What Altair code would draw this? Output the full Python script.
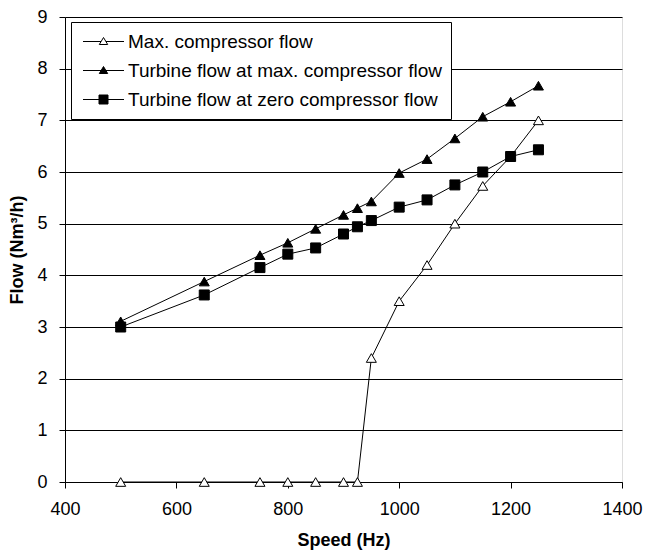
import altair as alt
import pandas as pd

speeds = [500, 650, 750, 800, 850, 900, 925, 950, 1000, 1050, 1100, 1150, 1200, 1250]
max_compressor = [0, 0, 0, 0, 0, 0, 0, 2.4, 3.5, 4.2, 5.0, 5.73, 6.3, 7.0]
turbine_at_max = [3.11, 3.88, 4.39, 4.63, 4.9, 5.17, 5.3, 5.43, 5.98, 6.25, 6.65, 7.07, 7.36, 7.67]
turbine_at_zero = [3.0, 3.62, 4.15, 4.41, 4.53, 4.8, 4.94, 5.06, 5.32, 5.46, 5.75, 6.0, 6.3, 6.43]
series_names = [
    "Max. compressor flow",
    "Turbine flow at max. compressor flow",
    "Turbine flow at zero compressor flow",
]
x_ticks = [400, 600, 800, 1000, 1200, 1400]
y_ticks = [0, 1, 2, 3, 4, 5, 6, 7, 8, 9]

rows = []
for name, vals in zip(series_names, [max_compressor, turbine_at_max, turbine_at_zero]):
    for s, v in zip(speeds, vals):
        rows.append({"series": name, "speed": s, "flow": v})
df = pd.DataFrame(rows)

FONT = "Liberation Sans"

x_enc = alt.X(
    "speed:Q",
    scale=alt.Scale(domain=[400, 1400], nice=False, zero=False),
    axis=alt.Axis(
        values=x_ticks, format="d", title="Speed (Hz)", grid=False,
        domainColor="black", tickColor="black", tickSize=6,
        labelFontSize=18, labelColor="black", labelFont=FONT, labelPadding=12,
        titleFontSize=18, titleFontWeight="bold", titleColor="black", titleFont=FONT,
        titlePadding=13, labelFlush=False,
    ),
)
y_enc = alt.Y(
    "flow:Q",
    scale=alt.Scale(domain=[0, 9], nice=False),
    axis=alt.Axis(
        values=y_ticks, format="d", title="Flow (Nm³/h)", grid=True, gridColor="black", gridWidth=1,
        domainColor="black", tickColor="black", tickSize=6,
        labelFontSize=18, labelColor="black", labelFont=FONT, labelPadding=12,
        titleFontSize=18, titleFontWeight="bold", titleColor="black", titleFont=FONT,
        titlePadding=10, labelFlush=False,
    ),
)

lines = alt.Chart(df).mark_line(color="black", strokeWidth=1).encode(
    x=x_enc, y=y_enc, detail="series:N"
)

points = alt.Chart(df).mark_point(filled=True, stroke="black", strokeWidth=1, size=100, opacity=1).encode(
    x=x_enc, y=y_enc,
    shape=alt.Shape("series:N", scale=alt.Scale(domain=series_names, range=["triangle-up", "triangle-up", "square"]), legend=None),
    fill=alt.Fill("series:N", scale=alt.Scale(domain=series_names, range=["white", "black", "black"]), legend=None),
)

legend_paths = [
    "M-2.05,0H-0.25M0.25,0H2.05M-0.42,0.3L0,-0.4L0.42,0.3Z",
    "M-2.05,0H2.05M-0.42,0.3L0,-0.4L0.42,0.3Z",
    "M-2.05,0H2.05M-0.45,-0.45H0.45V0.45H-0.45Z",
]
leg = alt.Legend(
    title=None, orient="none", legendX=6, legendY=5,
    fillColor="white", strokeColor="black", padding=9,
    symbolSize=400, symbolStrokeWidth=1, symbolStrokeColor="black", symbolOffset=13,
    labelFontSize=19, labelFont=FONT, labelColor="black", labelOffset=14,
    rowPadding=8, labelLimit=0,
)
legend_layer = alt.Chart(df).transform_filter("false").mark_point(
    filled=True, strokeWidth=1, size=400, opacity=1
).encode(
    x=x_enc, y=y_enc,
    shape=alt.Shape("series:N", scale=alt.Scale(domain=series_names, range=legend_paths), legend=leg),
    fill=alt.Fill("series:N", scale=alt.Scale(domain=series_names, range=["white", "black", "black"]), legend=leg),
    stroke=alt.Stroke("series:N", scale=alt.Scale(domain=series_names, range=["black", "black", "black"]), legend=leg),
)

chart = alt.layer(lines, points, legend_layer).resolve_scale(
    shape="independent", fill="independent", stroke="independent"
).resolve_legend(shape="independent", fill="independent", stroke="independent").properties(
    width=557, height=465,
    autosize=alt.AutoSizeParams(type="none"),
    padding={"left": 65, "top": 17, "right": 24, "bottom": 68},
    background="white",
).configure_view(stroke="#808080", strokeWidth=1).configure(font=FONT)

chart.save("out.html", embed_options={"renderer": "svg", "actions": False})
